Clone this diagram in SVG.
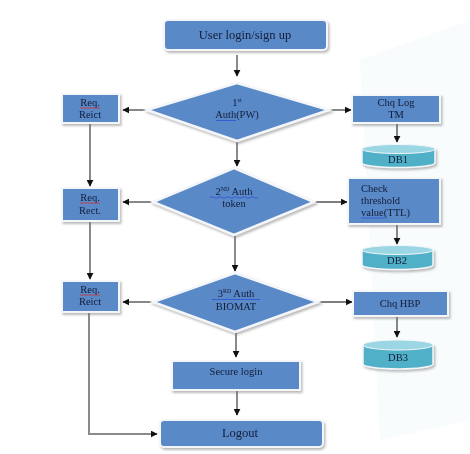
<svg xmlns="http://www.w3.org/2000/svg" width="470" height="454" viewBox="0 0 470 454">
<defs>
<style>
.box{fill:#5a89c8;stroke:#f4f6fa;stroke-width:2}
.dia{fill:#5a89c8;stroke:#f4f6fa;stroke-width:2.5}
.cyl{fill:#4fb0c8;stroke:#f4f6fa;stroke-width:1.5}
.cyltop{fill:#9bd6e4;stroke:#f4f6fa;stroke-width:1}
.t{font-family:"Liberation Serif","Times New Roman",serif;font-size:10.5px;fill:#131d38;text-anchor:middle}
.tl{font-family:"Liberation Serif","Times New Roman",serif;font-size:10.5px;fill:#131d38}
.big{font-size:12.5px}
.ln{fill:none;stroke:#555;stroke-width:1.4}
.gl{fill:none;stroke:#8a8a8a;stroke-width:2}
.ur{fill:none;stroke:#d03030;stroke-width:0.8}
.ub{fill:none;stroke:#3050d0;stroke-width:0.8}
</style>
<marker id="ah" viewBox="0 0 10 10" refX="9" refY="5" markerWidth="7" markerHeight="7" markerUnits="userSpaceOnUse" orient="auto">
<path d="M0,0 L10,5 L0,10 z" fill="#111"/>
</marker>
<filter id="sh" x="-20%" y="-20%" width="140%" height="150%">
<feDropShadow dx="1.5" dy="2" stdDeviation="1.2" flood-color="#777" flood-opacity="0.5"/>
</filter>
</defs>
<rect width="470" height="454" fill="#ffffff"/>
<g id="bg" opacity="0.18">
<path d="M360 60 L470 20 L470 420 L380 440 Z" fill="#d6eff5"/>
</g>

<g id="connectors">
<path class="gl" d="M237 55 V76" marker-end="url(#ah)"/>
<path class="ln" d="M147 110 H123" marker-end="url(#ah)"/>
<path class="ln" d="M329 110 H351" marker-end="url(#ah)"/>
<path class="ln" d="M397 124 V142" marker-end="url(#ah)"/>
<path class="gl" d="M237 142 V166" marker-end="url(#ah)"/>
<path class="gl" d="M90 124 V186" marker-end="url(#ah)"/>
<path class="ln" d="M153 202 H123" marker-end="url(#ah)"/>
<path class="ln" d="M314 202 H347" marker-end="url(#ah)"/>
<path class="ln" d="M397 224 V244" marker-end="url(#ah)"/>
<path class="gl" d="M235 236 V271" marker-end="url(#ah)"/>
<path class="gl" d="M90 222 V279" marker-end="url(#ah)"/>
<path class="ln" d="M153 302 H123" marker-end="url(#ah)"/>
<path class="ln" d="M318 302 H352" marker-end="url(#ah)"/>
<path class="ln" d="M397 316 V337" marker-end="url(#ah)"/>
<path class="gl" d="M236 332 V357" marker-end="url(#ah)"/>
<path class="gl" d="M237 391 V415" marker-end="url(#ah)"/>
<path class="gl" d="M89 313 V434 H157" marker-end="url(#ah)"/>
</g>

<g id="n-login" filter="url(#sh)">
<rect class="box" x="164" y="20" width="163" height="30" rx="4"/>
<text class="t big" x="245" y="39">User login/sign up</text>
</g>

<g id="n-auth1" filter="url(#sh)">
<polygon class="dia" points="237,83 329,110 237,141 147,110"/>
<text class="t" x="237" y="106">1<tspan font-size="6" dy="-4">st</tspan></text>
<text class="t" x="237" y="118">Auth(PW)</text>
<path class="ub" d="M216 120.5 H236"/>
</g>

<g id="n-rej1" filter="url(#sh)">
<rect class="box" x="62" y="94" width="57" height="29"/>
<text class="t" x="90" y="106">Req.</text>
<path class="ur" d="M80 108 H100"/>
<text class="t" x="90" y="118">Reict</text>
</g>

<g id="n-chqlog" filter="url(#sh)">
<rect class="box" x="352" y="95" width="88" height="28"/>
<text class="t" x="396" y="106">Chq Log</text>
<text class="t" x="396" y="118">TM</text>
</g>

<g id="n-db1" filter="url(#sh)">
<path class="cyl" d="M362 149 V163 A36.5 4.5 0 0 0 435 163 V149 Z"/>
<ellipse class="cyltop" cx="398.5" cy="149" rx="36.5" ry="4.5"/>
<text class="t" x="398" y="163">DB1</text>
</g>

<g id="n-auth2" filter="url(#sh)">
<polygon class="dia" points="234,168 314,202 234,235 153,202"/>
<text class="t" x="234" y="195">2<tspan font-size="6" dy="-4">ND</tspan><tspan dy="4"> Auth</tspan></text>
<path class="ub" d="M210 197.5 q2 -1.5 4 0 t4 0 t4 0 t4 0 t4 0 t4 0 t4 0 t4 0 t4 0 t4 0 t4 0 t4 0"/>
<text class="t" x="234" y="207">token</text>
</g>

<g id="n-rej2" filter="url(#sh)">
<rect class="box" x="62" y="188" width="57" height="33"/>
<text class="t" x="90" y="201">Req.</text>
<path class="ur" d="M80 203 H100"/>
<text class="t" x="90" y="214">Rect.</text>
</g>

<g id="n-check" filter="url(#sh)">
<rect class="box" x="348" y="178" width="92" height="46"/>
<text class="tl" x="361" y="192">Check</text>
<text class="tl" x="361" y="204">threshold</text>
<text class="tl" x="361" y="216">value(TTL)</text>
<path class="ub" d="M361 218 H385"/>
</g>

<g id="n-db2" filter="url(#sh)">
<path class="cyl" d="M362 250 V265 A35.5 4.5 0 0 0 433 265 V250 Z"/>
<ellipse class="cyltop" cx="397.5" cy="250" rx="35.5" ry="4.5"/>
<text class="t" x="397" y="264">DB2</text>
</g>

<g id="n-auth3" filter="url(#sh)">
<polygon class="dia" points="235,273 318,302 235,332 153,302"/>
<text class="t" x="236" y="297">3<tspan font-size="6" dy="-4">RD</tspan><tspan dy="4"> Auth</tspan></text>
<path class="ub" d="M212 299.5 H260"/>
<text class="t" x="236" y="310">BIOMAT</text>
</g>

<g id="n-rej3" filter="url(#sh)">
<rect class="box" x="62" y="281" width="57" height="31"/>
<text class="t" x="90" y="293">Req.</text>
<path class="ur" d="M80 295 H100"/>
<text class="t" x="90" y="305">Reict</text>
</g>

<g id="n-chqhbp" filter="url(#sh)">
<rect class="box" x="353" y="291" width="95" height="25"/>
<text class="t" x="400" y="307">Chq HBP</text>
</g>

<g id="n-db3" filter="url(#sh)">
<path class="cyl" d="M363 345 V364 A35 5 0 0 0 433 364 V345 Z"/>
<ellipse class="cyltop" cx="398" cy="345" rx="35" ry="5"/>
<text class="t" x="398" y="361">DB3</text>
</g>

<g id="n-secure" filter="url(#sh)">
<rect class="box" x="172" y="361" width="128" height="29"/>
<text class="t" x="236" y="375">Secure login</text>
</g>

<g id="n-logout" filter="url(#sh)">
<rect class="box" x="160" y="420" width="163" height="27" rx="4"/>
<text class="t big" x="240" y="437">Logout</text>
</g>
</svg>
